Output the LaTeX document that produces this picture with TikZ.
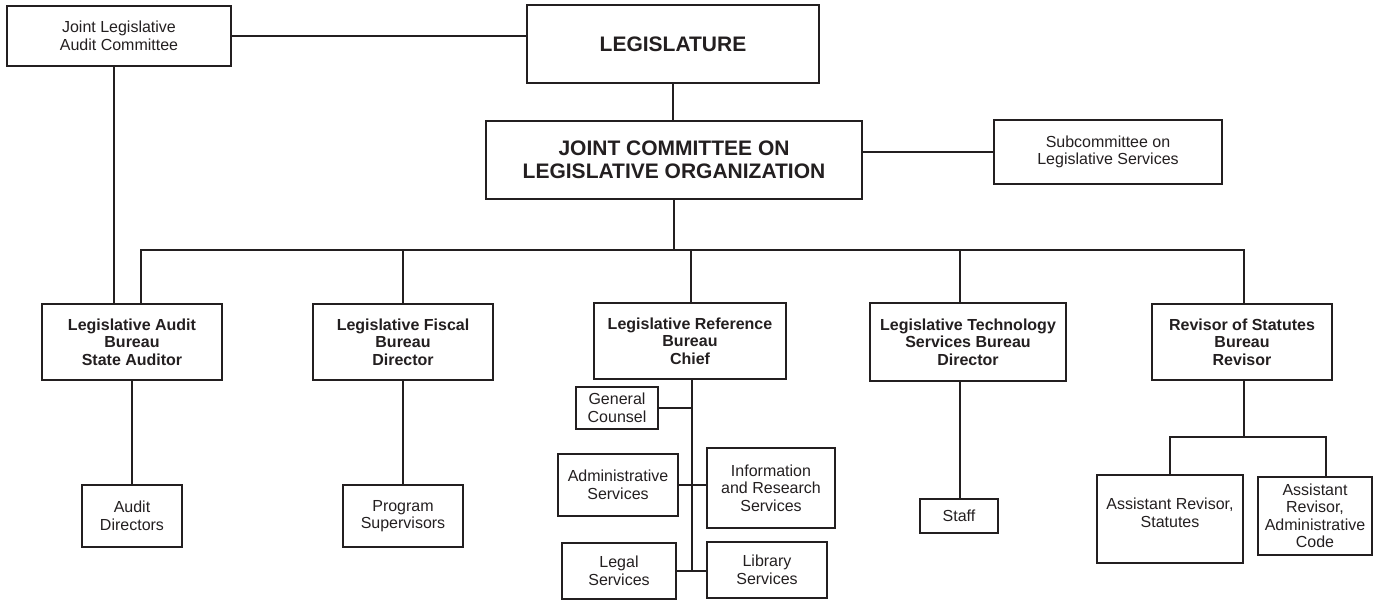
\documentclass[tikz,border=0pt]{standalone}
\usepackage{fontspec}
\setmainfont{Liberation Sans}
\definecolor{ink}{RGB}{35,31,32}
\begin{document}
\begin{tikzpicture}[x=1pt,y=-1pt,
  conn/.style={line width=2pt,draw=ink},
  box/.style={draw=ink,line width=2pt,inner sep=0pt,align=center,text=ink,
    font=\fontsize{16}{17.5}\selectfont},
  bbox/.style={box,font=\bfseries\fontsize{16}{17.5}\selectfont},
  bigbox/.style={box,font=\bfseries\fontsize{21}{23}\selectfont},
  lbl/.style={align=center,text=ink,inner sep=0pt,font=\fontsize{16}{17.5}\selectfont},
  sz/.style 2 args={minimum width=#1pt,minimum height=#2pt}]
\useasboundingbox (0,0) rectangle (1373,601);
% top level
\node[box,sz={224}{60}] (jlac) at (119,36) {Joint Legislative\\Audit Committee};
\node[bigbox,sz={292}{78}] (leg) at (673,44) {LEGISLATURE};
\node[bigbox,sz={376}{78}] (jclo) at (674,160) {JOINT COMMITTEE ON\\LEGISLATIVE ORGANIZATION};
\node[box,sz={228}{64}] (sub) at (1108,152) {Subcommittee on\\Legislative Services};
% bureaus
\node[bbox,sz={180}{76}] (lab) at (132,342) {Legislative Audit\\Bureau\\State Auditor};
\node[bbox,sz={180}{76}] (lfb) at (403,342) {Legislative Fiscal\\Bureau\\Director};
\node[bbox,sz={192}{76}] (lrb) at (690,341) {Legislative Reference\\Bureau\\Chief};
\node[bbox,sz={196}{78}] (ltsb) at (968,342) {Legislative Technology\\Services Bureau\\Director};
\node[bbox,sz={180}{76}] (rsb) at (1242,342) {Revisor of Statutes\\Bureau\\Revisor};
% lower boxes
\node[box,sz={100}{62}] (ad) at (132,516) {Audit\\Directors};
\node[box,sz={120}{62}] (ps) at (403,516) {Program\\Supervisors};
\node[box,sz={82}{42}] (gc) at (617,408) {General\\Counsel};
\node[box,sz={120}{62}] (as) at (618,485) {Administrative\\Services};
\node[box,sz={128}{80}] (irs) at (771,488) {Information\\and Research\\Services};
\node[box,sz={114}{56}] (ls) at (619,571) {Legal\\Services};
\node[box,sz={120}{56}] (lib) at (767,570) {Library\\Services};
\node[box,sz={78}{34}] (staff) at (959,516) {Staff};
\node[box,sz={146}{88}] (ars) at (1170,519) {};
\node[lbl] (arstext) at (1170,513) {Assistant Revisor,\\Statutes};
\node[box,sz={114}{78}] (arac) at (1315,516) {Assistant\\Revisor,\\Administrative\\Code};
% coordinates
\coordinate (busL) at (141,250);
\coordinate (busR) at (1244,250);
\coordinate (ltsbx) at (960,250);
\coordinate (lrbx) at (691,250);
\coordinate (jv) at (114,250);
\coordinate (trunk) at (692,570);
\coordinate (rbarL) at (1170,437);
\coordinate (rbarR) at (1326,437);
% connectors
\draw[conn] (jlac.east) -- (jlac.east -| leg.west);
\draw[conn] (leg.south) -- (leg.south |- jclo.north);
\draw[conn] (sub.west -| jclo.east) -- (sub.west);
\draw[conn] (jclo.south) -- (jclo.south |- busL);
\draw[conn] (busL |- lab.north) -- (busL) -- (busR) -- (busR |- rsb.north);
\draw[conn] (lfb.north) -- (lfb.north |- busL);
\draw[conn] (lrbx) -- (lrbx |- lrb.north);
\draw[conn] (ltsbx) -- (ltsbx |- ltsb.north);
\draw[conn] (jv |- jlac.south) -- (jv |- lab.north);
\draw[conn] (lab.south) -- (ad.north);
\draw[conn] (lfb.south) -- (lfb.south |- ps.north);
\draw[conn] (ltsbx |- ltsb.south) -- (ltsbx |- staff.north);
\draw[conn] (lrb.south -| trunk) -- (trunk);
\draw[conn] (gc.east) -- (gc.east -| trunk);
\draw[conn] (as.east) -- (as.east -| irs.west);
\draw[conn] (ls.east) -- (ls.east -| lib.west);
\draw[conn] (busR |- rsb.south) -- (busR |- rbarL);
\draw[conn] (ars.north) -- (rbarL) -- (rbarR) -- (rbarR |- arac.north);
\end{tikzpicture}
\end{document}
